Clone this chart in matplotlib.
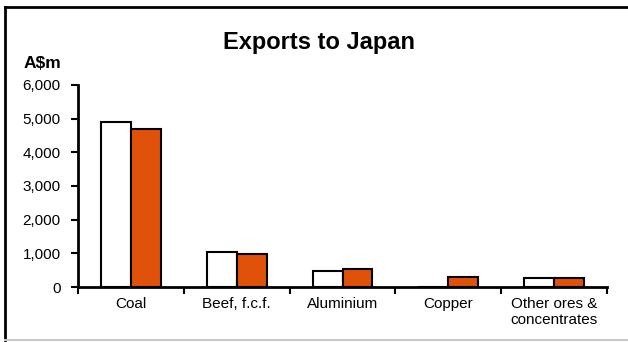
import matplotlib
matplotlib.use("Agg")
import matplotlib.pyplot as plt
import numpy as np
from matplotlib.lines import Line2D

categories = ["Coal", "Beef, f.c.f.", "Aluminium", "Copper", "Other ores &\nconcentrates"]
series_a = [4900, 1040, 485, 0, 258]
series_b = [4680, 970, 535, 306, 258]
yticks = [0, 1000, 2000, 3000, 4000, 5000, 6000]

plt.rcParams['font.family'] = ['Liberation Sans', 'DejaVu Sans']

fig = plt.figure(figsize=(6.28, 3.42), dpi=100)
ax = fig.add_axes([0.1242, 0.1608, 0.8424, 0.5907])

x = np.arange(len(categories))
w = 0.283
ax.bar(x - w/2, series_a, w, color="white", edgecolor="black", linewidth=1.5, zorder=2)
ax.bar(x + w/2, series_b, w, color="#E0520A", edgecolor="black", linewidth=1.5, zorder=2)

ax.set_xlim(-0.5, len(categories) - 0.5)
ax.set_ylim(0, 6000)
ax.set_yticks(yticks)
ax.set_yticklabels([f"{v:,}" for v in yticks], fontsize=11)
ax.set_xticks(x)
ax.set_xticklabels(categories, fontsize=11)
ax.tick_params(axis='x', which='major', length=0, pad=7)
ax.set_xticks(np.arange(-0.5, len(categories)), minor=True)
ax.tick_params(axis='x', which='minor', length=5, width=1.5, direction='out')
ax.tick_params(axis='y', length=5, width=1.5, direction='out', pad=7.5)
for s in ["top", "right"]:
    ax.spines[s].set_visible(False)
for s in ["left", "bottom"]:
    ax.spines[s].set_linewidth(2)

fig.text(0.508, 0.877, "Exports to Japan", ha="center", va="center", fontsize=17, fontweight="bold")
fig.text(0.038, 0.815, "A$m", ha="left", va="center", fontsize=12.5, fontweight="bold")

# figure border
fig.add_artist(Line2D([0.008, 1.0], [0.979, 0.979], transform=fig.transFigure, color="black", linewidth=2))
fig.add_artist(Line2D([0.008, 0.008], [0.006, 0.979], transform=fig.transFigure, color="black", linewidth=2))
fig.add_artist(Line2D([0.008, 1.0], [0.006, 0.006], transform=fig.transFigure, color="#c8c8c8", linewidth=1.5))

fig.savefig("out.png", dpi=100)
